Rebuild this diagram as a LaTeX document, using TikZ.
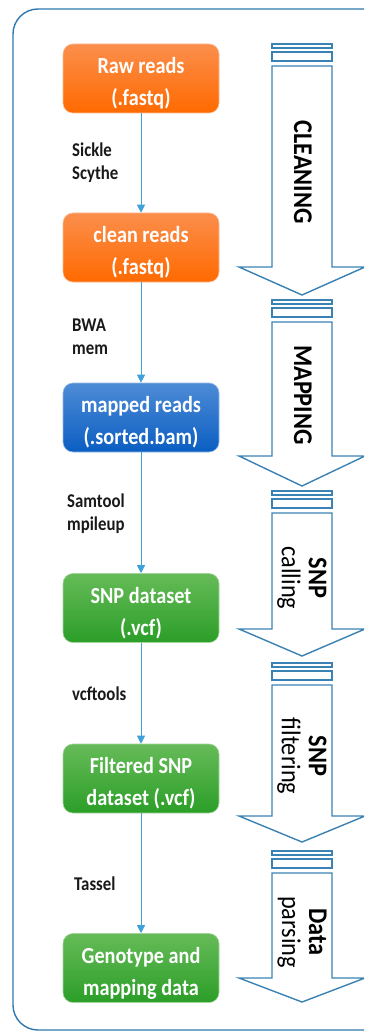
\documentclass[tikz,border=0pt]{standalone}
\usepackage{fontspec}
\setmainfont{Carlito}
\newfontfamily\narrowfont[FakeStretch=0.88]{Carlito}
\newfontfamily\slimfont[FakeStretch=0.86]{Carlito}
\newfontfamily\stagefont[FakeStretch=0.9]{Carlito}
\usetikzlibrary{arrows.meta}
\definecolor{framecol}{HTML}{2F78B0}
\definecolor{arrcol}{HTML}{3A82B4}
\definecolor{conncol}{HTML}{3FA0DA}
\definecolor{orTop}{HTML}{FB8E4C}
\definecolor{orBot}{HTML}{FF6A00}
\definecolor{blTop}{HTML}{4E8BD6}
\definecolor{blBot}{HTML}{0A5EC2}
\definecolor{grTop}{HTML}{66BB58}
\definecolor{grBot}{HTML}{2B9E28}
\tikzset{
  stepbox/.style={rounded corners=10pt, minimum width=156pt, minimum height=69pt,
    inner sep=0pt, align=center, text=white,
    font=\narrowfont\bfseries\fontsize{23pt}{32pt}\selectfont},
  orangebox/.style={stepbox, top color=orTop, bottom color=orBot, draw=orTop!60!white, line width=0.6pt},
  bluebox/.style={stepbox, top color=blTop, bottom color=blBot, draw=blTop!60!white, line width=0.6pt},
  greenbox/.style={stepbox, top color=grTop, bottom color=grBot, draw=grTop!60!white, line width=0.6pt},
  conn/.style={draw=conncol, line width=0.8pt, -{Triangle[length=8pt,width=8pt,fill=conncol]}},
  toollabel/.style={anchor=west, align=left, inner sep=0pt, text=black!90,
    font=\slimfont\bfseries\fontsize{19.5pt}{23pt}\selectfont},
  arrowline/.style={draw=arrcol, line width=1.4pt, fill=white},
  stagelabel/.style={rotate=-90, align=center, inner sep=0pt, text=black,
    font=\stagefont\fontsize{27pt}{27pt}\selectfont},
  framebox/.style={draw=framecol, line width=1.4pt, rounded corners=25pt}
}
\newcommand\topstrut{\rule{0pt}{26pt}}
\newcommand\stagearrow[3]{%
  \draw[arrowline] (272,#1) rectangle (332,#1+4);
  \draw[arrowline] (272,#1+8) rectangle (332,#1+17);
  \draw[arrowline] (272,#1+22) -- (272,#2) -- (239,#2) -- (302,#3) -- (365,#2) -- (332,#2) -- (332,#1+22) -- cycle;
}
\begin{document}
\begin{tikzpicture}[x=1pt,y=-1pt]
\useasboundingbox (0,0) rectangle (364,1032);
\clip (0,0) rectangle (364,1032);
\draw[framebox] (13,9) rectangle (400,1030);

% stage arrows
\stagearrow{44}{267}{295}
\stagearrow{300}{456}{486}
\stagearrow{491}{629}{656}
\stagearrow{663}{816}{842}
\stagearrow{851}{978}{1002}

\node[stagelabel] (s1) at (303,172) {\bfseries CLEANING};
\node[stagelabel] (s2) at (303,395) {\bfseries MAPPING};
\node[stagelabel] (s3) at (302,578) {\bfseries SNP\\calling};
\node[stagelabel] (s4) at (302,756) {\bfseries SNP\\filtering};
\node[stagelabel] (s5) at (302,932) {\bfseries Data\\parsing};

% boxes
\node[orangebox] (b1) at (141,78.5) {\topstrut Raw reads\\(.fastq)};
\node[orangebox] (b2) at (141,247.5) {\topstrut clean reads\\(.fastq)};
\node[bluebox]   (b3) at (141,417.5) {\topstrut mapped reads\\(.sorted.bam)};
\node[greenbox]  (b4) at (141,608) {\topstrut SNP dataset\\(.vcf)};
\node[greenbox]  (b5) at (141,778.5) {\topstrut Filtered SNP\\dataset (.vcf)};
\node[greenbox]  (b6) at (141,968) {\topstrut Genotype and\\mapping data};

% connectors
\draw[conn] (b1.south) -- (b2.north);
\draw[conn] (b2.south) -- (b3.north);
\draw[conn] (b3.south) -- (b4.north);
\draw[conn] (b4.south) -- (b5.north);
\draw[conn] (b5.south) -- (b6.north);

% tool labels
\node[toollabel] (t1) at (72,163) {Sickle\\Scythe};
\node[toollabel] (t2) at (72,337) {BWA\\mem};
\node[toollabel] (t3) at (67,514) {Samtool\\mpileup};
\node[toollabel] (t4) at (72,694) {vcftools};
\node[toollabel] (t5) at (74,884) {Tassel};
\end{tikzpicture}
\end{document}
